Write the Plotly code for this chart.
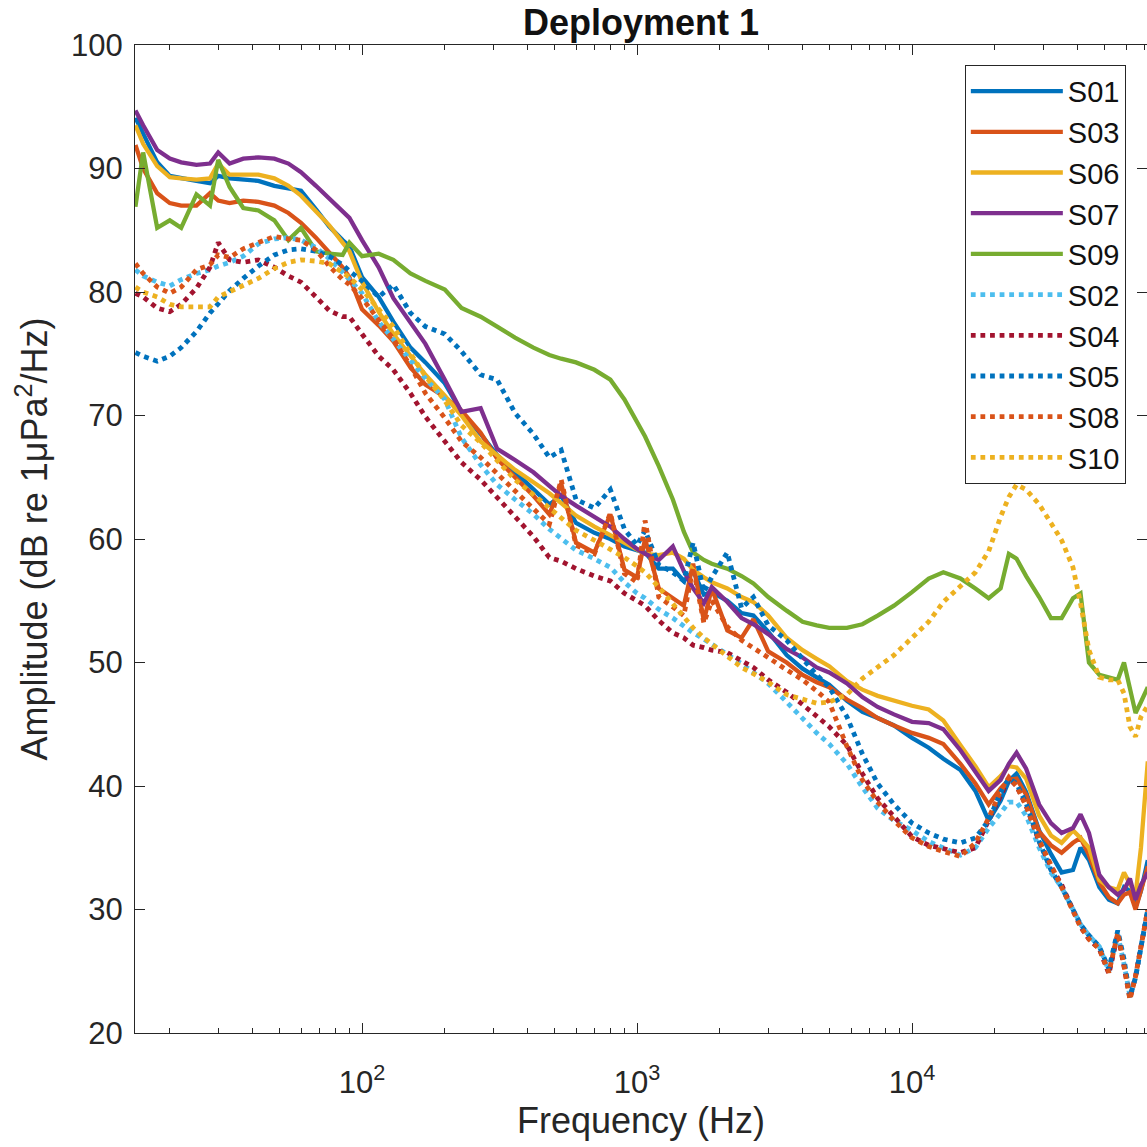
import plotly.graph_objects as go

# ---------------- data ----------------
freq_hz = [15, 16, 18, 20, 22, 25, 28, 30, 33, 37,
           42, 48, 54, 60, 68, 76, 85, 90, 100, 115,
           130, 150, 170, 200, 230, 270, 310, 360, 420, 480,
           530, 600, 700, 800, 900, 1000, 1070, 1200, 1350, 1480,
           1600, 1750, 1870, 2130, 2400, 2650, 3000, 3500, 4000, 4500,
           5000, 5800, 6600, 7500, 8600, 10000, 11500, 13000, 15000, 17000,
           19000, 21000, 22500, 24000, 26000, 29000, 32000, 35000, 38500, 41000,
           44000, 48000, 52000, 56000, 59000, 62000, 65000, 68000, 72000]

s01 = [94.1, 92.8, 90.5, 89.4, 89.2, 89.0, 88.8, 89.4, 89.2, 89.1,
       89.0, 88.6, 88.4, 88.2, 86.7, 85.3, 84.2, 83.7, 81.2, 79.6,
       77.6, 75.5, 74.3, 72.6, 70.3, 68.5, 66.8, 65.4, 64.0, 62.8,
       63.5, 61.3, 60.5, 60.0, 59.4, 59.1, 58.9, 57.6, 57.6, 56.6,
       57.4, 55.5, 55.7, 55.0, 54.0, 53.8, 52.5, 50.6, 49.5, 48.8,
       48.2, 46.9, 46.0, 45.5, 44.9, 43.9, 43.1, 42.2, 41.3, 39.6,
       37.2, 38.8, 40.4, 41.0, 39.5, 36.4, 34.5, 33.0, 33.2, 35.0,
       34.0, 31.8, 30.8, 30.5, 31.8, 31.5, 30.2, 31.5, 34.0]

s03 = [91.9, 90.0, 88.0, 87.2, 87.0, 87.0, 88.0, 87.4, 87.2, 87.4,
       87.3, 87.0, 86.4, 85.6, 84.4, 83.2, 82.0, 81.2, 78.6, 77.3,
       76.0, 73.9, 72.5, 71.5, 70.4, 68.6, 66.5, 65.0, 63.5, 62.0,
       64.5, 59.7, 58.9, 62.0, 57.5, 56.9, 60.0, 56.0, 55.2, 54.6,
       58.0, 53.4, 56.0, 52.6, 52.0, 53.5, 50.9, 50.0, 49.0, 48.4,
       48.0, 47.0, 46.3, 45.5, 44.9, 44.3, 43.9, 43.4, 41.8, 40.2,
       38.5, 39.8, 40.5, 40.6, 39.3, 36.3, 35.2, 34.6, 35.4, 35.8,
       34.4, 32.2, 31.0, 30.5, 31.2, 31.4, 30.0, 31.5, 33.5]

s06 = [93.5, 92.0, 90.2, 89.3, 89.2, 89.1, 89.2, 90.4, 89.5, 89.5,
       89.5, 89.2, 88.6, 87.8, 86.5, 85.4, 84.0, 83.3, 80.8, 78.4,
       76.6, 74.9, 73.3, 71.6, 70.0, 67.9, 66.8, 65.6, 64.6, 63.7,
       62.9, 61.9, 61.0, 60.3, 59.7, 59.2, 58.8, 58.7, 58.9, 58.4,
       57.5, 56.9, 56.5, 56.0, 55.3, 54.9, 53.8, 52.0, 51.0, 50.3,
       49.7, 48.5, 47.8, 47.3, 46.9, 46.5, 46.2, 45.3, 43.3, 41.6,
       39.9, 40.8, 41.6, 41.5, 40.6, 37.6, 36.0, 35.4, 36.4, 35.8,
       35.0, 32.4, 31.8, 31.6, 33.0, 32.0, 31.2, 35.0, 42.0]

s07 = [94.7, 93.5, 91.5, 90.8, 90.5, 90.3, 90.4, 91.3, 90.4, 90.8,
       90.9, 90.8, 90.4, 89.7, 88.6, 87.6, 86.6, 86.0, 84.2, 82.0,
       79.5, 77.6, 75.8, 72.9, 70.3, 70.6, 67.3, 66.4, 65.4, 64.3,
       63.5, 62.7, 61.8, 61.0, 60.0, 59.2, 58.8, 58.3, 59.4, 57.4,
       56.0, 54.8, 56.1, 54.9, 53.6, 53.1, 52.3, 51.1, 50.4, 49.6,
       49.2, 48.3, 47.2, 46.4, 45.8, 45.2, 45.1, 44.6, 42.9, 41.2,
       39.6, 40.5, 41.8, 42.7, 41.4, 38.5, 37.0, 36.2, 36.6, 37.7,
       36.2, 32.8, 31.8, 31.2, 31.6, 32.5, 30.8, 32.0, 33.0]

s09 = [86.9, 91.3, 85.2, 85.8, 85.2, 87.9, 87.0, 90.7, 88.5, 86.8,
       86.6, 85.8, 84.2, 85.2, 83.3, 83.1, 83.0, 84.0, 82.9, 83.1,
       82.6, 81.5, 80.9, 80.2, 78.7, 78.0, 77.2, 76.3, 75.5, 74.9,
       74.6, 74.3, 73.7, 72.9, 71.3, 69.4, 68.3, 65.9, 63.2, 60.6,
       58.9, 58.3, 58.0, 57.6, 57.0, 56.4, 55.3, 54.2, 53.3, 53.0,
       52.8, 52.8, 53.1, 53.8, 54.6, 55.7, 56.8, 57.3, 56.8, 56.0,
       55.2, 56.0, 58.8, 58.4, 57.0, 55.3, 53.6, 53.6, 55.2, 55.6,
       50.0, 49.0, 48.8, 48.6, 50.0, 48.0, 45.9, 46.8, 48.0]

s02 = [81.8, 81.3, 80.8, 80.5, 81.0, 81.5, 81.8, 82.1, 82.4, 82.9,
       83.9, 84.3, 84.4, 84.2, 83.6, 82.7, 81.6, 81.0, 79.9, 77.6,
       76.2, 74.5, 73.0, 71.3, 68.2, 66.0, 64.4, 63.2, 62.0, 60.8,
       60.0, 59.1, 58.4, 57.7, 56.5, 55.6, 55.2, 54.3, 53.6, 52.9,
       52.4, 51.9, 51.5, 50.6, 49.9, 49.2, 48.3, 46.8, 45.4, 44.3,
       43.4, 41.8, 39.9, 38.2, 37.2, 36.4, 35.5, 35.0, 34.4, 35.0,
       36.6, 37.8, 38.7, 38.7, 37.6, 35.0, 33.0, 31.8, 30.0, 28.8,
       27.9, 27.0, 25.0, 28.0, 25.6, 23.0, 24.5, 27.0, 30.0]

s04 = [79.9, 79.6, 78.7, 78.4, 79.0, 80.3, 82.0, 84.0, 82.6, 82.4,
       82.6, 82.0, 81.3, 80.8, 79.6, 78.5, 78.0, 78.0, 76.6, 74.8,
       73.7, 71.8, 69.9, 67.9, 66.2, 64.8, 63.4, 61.9, 60.2, 58.5,
       58.2, 57.6, 57.0, 56.6, 55.6, 55.0, 54.6, 53.4, 52.4, 52.0,
       51.4, 51.2, 51.0, 50.8, 50.2, 49.6, 48.6, 47.6, 46.6, 45.6,
       44.8, 43.3, 41.0, 39.0, 37.5, 35.9, 35.2, 34.9, 34.6, 35.0,
       37.2, 39.4, 40.6, 40.0, 38.4, 35.5, 33.5, 32.0, 30.0, 28.6,
       27.6, 26.8, 24.8, 28.0, 25.4, 22.8, 24.6, 27.0, 30.0]

s05 = [75.1, 74.8, 74.4, 74.8, 75.5, 76.8, 78.3, 79.0, 80.1, 81.1,
       82.1, 83.0, 83.4, 83.5, 83.3, 82.9, 82.2, 81.7, 80.9, 79.6,
       80.6, 78.3, 77.2, 76.6, 75.2, 73.3, 72.9, 70.2, 68.5, 66.6,
       67.2, 63.2, 62.5, 64.0, 60.8, 59.5, 60.7, 57.9, 57.3, 56.6,
       59.7, 55.7, 56.9, 58.9, 54.4, 55.3, 53.0, 51.8, 50.3, 49.0,
       48.0, 45.6, 42.6, 40.2, 38.5, 37.0, 36.2, 35.7, 35.4, 35.8,
       37.2, 39.5, 40.6, 40.2, 38.6, 35.5, 33.2, 31.8, 30.0, 28.8,
       27.9, 27.0, 25.2, 28.3, 26.0, 22.9, 24.5, 27.0, 30.0]

s08 = [82.3, 81.5, 80.4, 79.9, 80.4, 81.8, 82.2, 83.0, 82.8, 83.5,
       84.0, 84.5, 84.3, 84.2, 83.4, 82.1, 81.0, 80.6, 79.5, 77.8,
       76.2, 74.0, 71.8, 69.8, 67.9, 66.6, 65.3, 63.8, 62.4, 61.2,
       64.8, 59.5, 58.8, 62.1, 57.2, 56.5, 61.5, 55.3, 54.5, 53.8,
       57.7, 53.2, 55.0, 52.9, 51.8, 51.2, 50.4, 49.4, 48.6, 47.7,
       46.8, 43.2, 40.5, 38.7, 37.2, 35.8, 35.1, 34.7, 34.3, 35.4,
       37.4, 39.6, 40.7, 40.0, 38.4, 35.6, 33.6, 32.0, 30.0, 28.6,
       27.6, 26.8, 24.9, 28.1, 25.5, 22.7, 24.6, 27.0, 30.0]

s10 = [80.4, 80.0, 79.6, 79.0, 78.8, 78.8, 78.8, 79.6, 80.0, 80.5,
       81.1, 81.9, 82.4, 82.6, 82.5, 82.3, 81.6, 81.2, 80.2, 78.6,
       77.2, 75.0, 73.2, 71.2, 69.2, 67.8, 66.3, 64.8, 63.6, 62.5,
       61.6, 60.7, 59.9, 59.2, 58.5, 57.8, 57.3, 56.1, 54.8, 53.8,
       52.8, 52.0, 51.5, 50.4, 49.6, 49.1, 48.4, 47.4, 47.0, 46.7,
       46.8, 47.4, 48.7, 49.6, 50.6, 52.0, 53.3, 54.9, 56.2, 57.3,
       59.0, 61.8, 63.4, 64.4, 64.0, 62.8, 61.3, 59.9, 57.7, 54.8,
       51.0, 48.8, 48.6, 48.6, 47.5, 44.8, 44.0, 45.6, 46.5]

series_names = ["S01", "S03", "S06", "S07", "S09", "S02", "S04", "S05", "S08", "S10"]
series_values = [s01, s03, s06, s07, s09, s02, s04, s05, s08, s10]
series_colors = ["#0072BD", "#D95319", "#EDB120", "#7E2F8E", "#77AC30",
                 "#4DBEEE", "#A2142F", "#0072BD", "#D95319", "#EDB120"]
series_dash = ["solid"] * 5 + ["dot"] * 5

x_major = [100, 1000, 10000]
x_major_text = ["10<sup>2</sup>", "10<sup>3</sup>", "10<sup>4</sup>"]
x_minor = [20, 30, 40, 50, 60, 70, 80, 90,
           200, 300, 400, 500, 600, 700, 800, 900,
           2000, 3000, 4000, 5000, 6000, 7000, 8000, 9000,
           20000, 30000, 40000, 50000, 60000, 70000]
y_ticks = [20, 30, 40, 50, 60, 70, 80, 90, 100]

# ---------------- figure ----------------
fig = go.Figure()
for name, vals, col, dash in zip(series_names, series_values, series_colors, series_dash):
    fig.add_trace(go.Scatter(
        x=freq_hz, y=vals, mode="lines", name=name,
        line=dict(color=col, width=4.3 if dash == "solid" else 4.8, dash=dash),
    ))

axis_col = "#262626"
fig.update_layout(
    width=1147, height=1147,
    margin=dict(l=135, r=0, t=45, b=114),
    paper_bgcolor="white", plot_bgcolor="white",
    font=dict(family="Liberation Sans, Arial, Helvetica, sans-serif", color=axis_col),
    title=dict(text="<b>Deployment 1</b>", x=0.5, xref="paper", xanchor="center",
               y=1 - 22 / 1147, yref="container", yanchor="middle",
               font=dict(size=36, color="#111111")),
    xaxis=dict(type="log", range=[1.1745, 4.8545],
               tickmode="array", tickvals=x_major, ticktext=x_major_text,
               ticks="inside", ticklen=10, tickwidth=1, tickcolor=axis_col,
               showline=True, linecolor=axis_col, linewidth=1, mirror="ticks",
               showgrid=False, zeroline=False, tickfont=dict(size=31),
               ticklabelstandoff=22,
               minor=dict(tickvals=x_minor, ticks="inside", ticklen=5,
                          tickcolor=axis_col, showgrid=False),
               title=dict(text="Frequency (Hz)", font=dict(size=36), standoff=6)),
    yaxis=dict(range=[20, 100], tickmode="array", tickvals=y_ticks,
               ticks="inside", ticklen=10, tickwidth=1, tickcolor=axis_col,
               showline=True, linecolor=axis_col, linewidth=1, mirror="ticks",
               showgrid=False, zeroline=False, tickfont=dict(size=31),
               ticklabelstandoff=5,
               title=dict(text="Amplitude (dB re 1μPa<sup>2</sup>/Hz)",
                          font=dict(size=36), standoff=12)),
    legend=dict(x=0.820, y=0.98, xanchor="left", yanchor="top",
                bgcolor="white", bordercolor=axis_col, borderwidth=1,
                font=dict(size=29, color="#111111"), itemwidth=92,
                tracegroupgap=0),
    showlegend=True,
)

fig.write_html("out.html")
